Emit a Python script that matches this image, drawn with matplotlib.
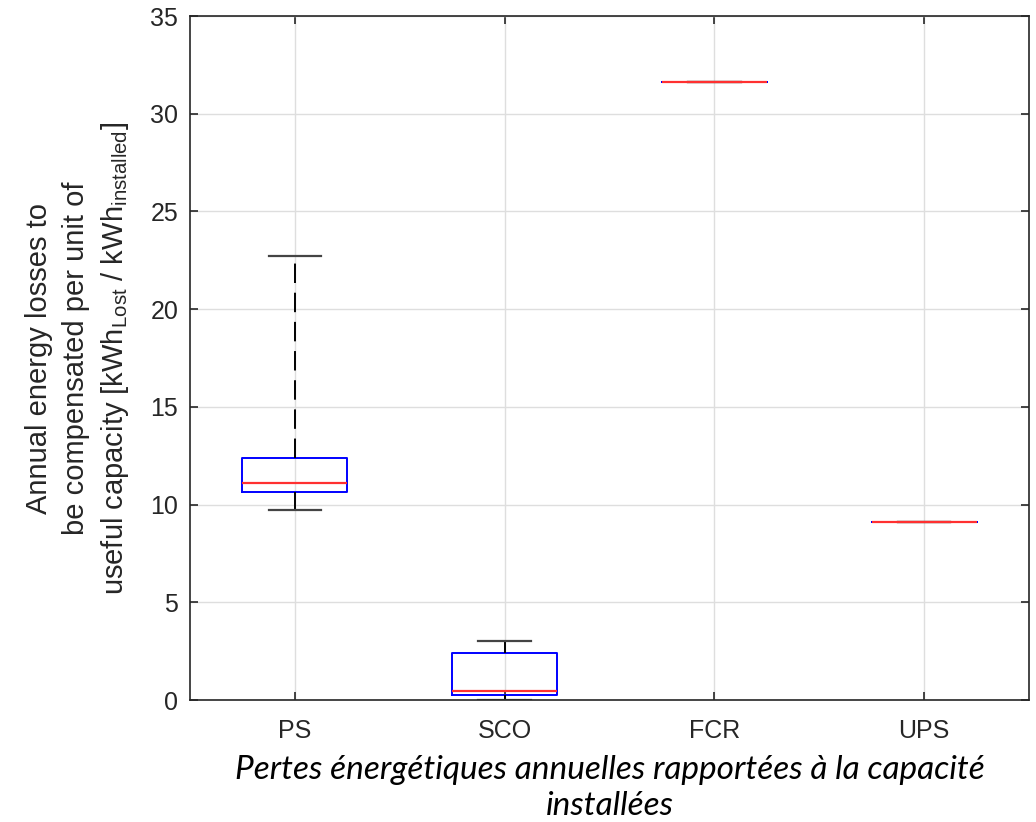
import matplotlib
matplotlib.use("Agg")
import matplotlib.pyplot as plt

categories = ["PS", "SCO", "FCR", "UPS"]
whisker_low = [9.72, 0.0, 31.61, 9.13]
q1 = [10.66, 0.24, 31.61, 9.13]
median = [11.12, 0.45, 31.61, 9.13]
q3 = [12.37, 2.39, 31.61, 9.13]
whisker_high = [22.74, 3.03, 31.61, 9.13]
yticks = [0, 5, 10, 15, 20, 25, 30, 35]

plt.rcParams['font.family'] = ['Liberation Sans', 'DejaVu Sans']
plt.rcParams['mathtext.fontset'] = 'custom'
plt.rcParams['mathtext.rm'] = 'Liberation Sans'
plt.rcParams['mathtext.it'] = 'Liberation Sans'

fig = plt.figure(figsize=(10.36, 8.22), dpi=100)
ax = fig.add_axes([190/1036, 122/822, (1029-190)/1036, (700-16)/822])

stats = []
for i, c in enumerate(categories):
    stats.append(dict(label=c, whislo=whisker_low[i], q1=q1[i], med=median[i],
                      q3=q3[i], whishi=whisker_high[i], fliers=[]))

ax.bxp(stats, positions=range(1, len(categories) + 1), widths=0.5,
       capwidths=0.25, showfliers=False,
       boxprops=dict(color='#0000ff', lw=1.4),
       whiskerprops=dict(color='black', lw=1.4, ls=(0, (10, 5))),
       capprops=dict(color='#444444', lw=1.6),
       medianprops=dict(color='#ff3030', lw=1.6))

ax.set_xlim(0.5, 4.5)
ax.set_ylim(0, 35)
ax.set_yticks(yticks)
ax.set_xticks(range(1, len(categories) + 1))
ax.set_xticklabels(categories)
ax.grid(True, color='#dedede', lw=1.0)
ax.set_axisbelow(True)
ax.tick_params(direction='in', length=6, width=1.2, top=True, right=True,
               labelsize=18, colors='#262626')
ax.tick_params(axis='x', pad=14)
ax.tick_params(axis='y', pad=8.5)
for s in ax.spines.values():
    s.set_color('#262626')
    s.set_linewidth(1.2)

ax.set_ylabel("Annual energy losses to\nbe compensated per unit of\n"
              r"useful capacity [kWh$_{\mathrm{Lost}}$ / kWh$_{\mathrm{installed}}$]",
              fontsize=21, color='#262626', labelpad=14, linespacing=1.38)

fig.text(610/1036, 1 - 788/822,
         "Pertes énergétiques annuelles rapportées à la capacité\ninstallées",
         ha='center', va='center', fontsize=24, style='italic',
         family=['Lato', 'DejaVu Sans'], linespacing=1.22)

fig.savefig("out.png", dpi=100)
